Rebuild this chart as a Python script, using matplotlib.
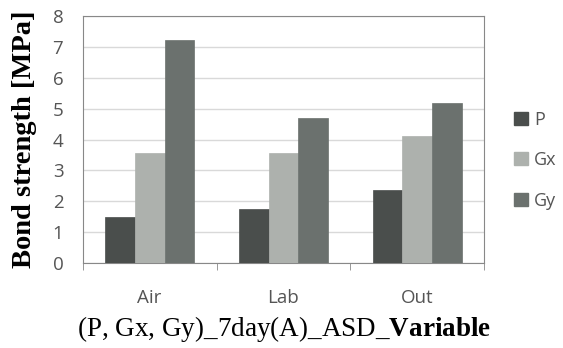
import numpy as np
import matplotlib.pyplot as plt
from matplotlib.patches import Patch

# data
categories = ['Air', 'Lab', 'Out']
series = ['P', 'Gx', 'Gy']
p_vals = [1.50, 1.74, 2.36]
gx_vals = [3.55, 3.57, 4.12]
gy_vals = [7.22, 4.70, 5.17]
colors = ['#4a4e4c', '#adb1ad', '#6b716e']

plt.rcParams['font.family'] = 'Open Sans'
plt.rcParams['mathtext.fontset'] = 'custom'
plt.rcParams['mathtext.rm'] = 'Liberation Serif'
plt.rcParams['mathtext.bf'] = 'Liberation Serif:bold'

fig = plt.figure(figsize=(5.63, 3.48), dpi=100)
ax = fig.add_axes([0.147, 0.244, 0.713, 0.710])

x = np.arange(len(categories))
w = 0.222
for i, (vals, c) in enumerate(zip([p_vals, gx_vals, gy_vals], colors)):
    ax.bar(x + (i - 1) * w, vals, width=w, color=c, edgecolor=c, linewidth=0.5, zorder=3)

ax.set_xlim(-0.5, 2.5)
ax.set_ylim(0, 8)
ax.set_yticks(range(0, 9))
ax.grid(axis='y', color='#d9d9d9', linewidth=1, zorder=0)

ax.set_xticks(x)
ax.set_xticklabels(categories)
ax.set_xticks([-0.5, 0.5, 1.5, 2.5], minor=True)
ax.tick_params(axis='x', which='major', length=0, pad=18.5, labelsize=13.5, labelcolor='#555555')
ax.tick_params(axis='x', which='minor', length=5, color='#888888', direction='out')
ax.tick_params(axis='y', length=0, pad=14, labelsize=13.5, labelcolor='#555555')

for s in ['top', 'right', 'left', 'bottom']:
    ax.spines[s].set_color('#888888')

ax.set_ylabel('Bond strength [MPa]', fontfamily='Liberation Serif',
              fontweight='bold', fontsize=20.5, labelpad=11)
fig.text(0.505, 0.012, r'(P, Gx, Gy)_7day(A)_ASD_$\mathbf{Variable}$',
         fontfamily='Liberation Serif', fontsize=19.5, ha='center', va='bottom')

handles = [Patch(facecolor=c, edgecolor=c) for c in colors]
leg = fig.legend(handles, series, loc='center left', bbox_to_anchor=(0.913, 0.54),
                 frameon=False, borderpad=0, borderaxespad=0,
                 handlelength=0.75, handleheight=0.75,
                 handletextpad=0.35, labelspacing=1.25,
                 prop={'family': 'Open Sans', 'size': 13})
for t in leg.get_texts():
    t.set_color('#555555')

fig.savefig('out.png', dpi=100)
